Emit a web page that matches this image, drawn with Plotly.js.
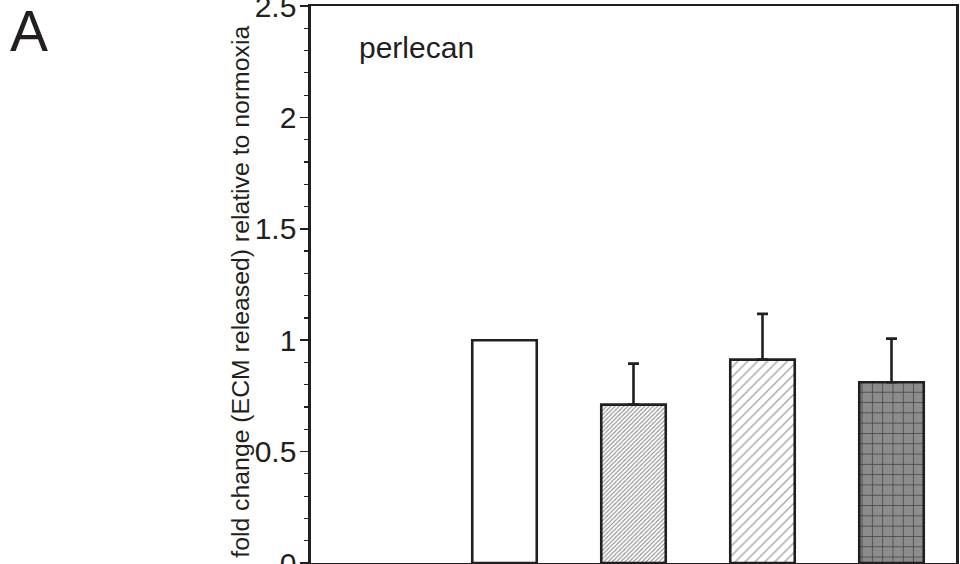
<!DOCTYPE html>
<html>
<head>
<meta charset="utf-8">
<script src="https://cdn.plot.ly/plotly-3.0.1.min.js"></script>
<style>html,body{margin:0;padding:0;background:#fff;}#chart{width:960px;height:564px;}</style>
</head>
<body>
<div id="chart"></div>
<script>
// Data
const positions = [1, 2, 3, 4];            // category slots (slot 0 is empty)
const values = [1.0, 0.711, 0.913, 0.811];
const errorsUp = [0, 0.184, 0.205, 0.196];
const yTickValues = [0, 0.5, 1, 1.5, 2, 2.5];
const yTickLabels = ["0", "0.5", "1", "1.5", "2", "2.5"];
const yTitle = "fold change (ECM released) relative to normoxia";
const panelLabel = "A";
const proteinLabel = "perlecan";

const ink = "#231f20";
const font = "Liberation Sans, Arial, Helvetica, sans-serif";

// fill styles per bar
const fills = [
  {color: "#ffffff", pattern: null},
  {color: "#ffffff", pattern: {shape: "/", size: 3, solidity: 0.35, fgcolor: "#8a8a8a", bgcolor: "#ffffff", fillmode: "replace"}},
  {color: "#ffffff", pattern: {shape: "/", size: 7, solidity: 0.18, fgcolor: "#a0a0a0", bgcolor: "#ffffff", fillmode: "replace"}},
  {color: "#8c8c8c", pattern: {shape: "+", size: 10.3, solidity: 0.12, fgcolor: "#333333", bgcolor: "#8c8c8c", fillmode: "replace"}}
];

const traces = positions.map((p, i) => {
  const marker = {color: fills[i].color, line: {color: ink, width: 2.6}};
  if (fills[i].pattern) marker.pattern = fills[i].pattern;
  const t = {
    type: "bar",
    x: [p],
    y: [values[i]],
    width: 0.5,
    marker: marker,
    hoverinfo: "x+y"
  };
  if (errorsUp[i] > 0) {
    t.error_y = {
      type: "data", symmetric: false,
      array: [errorsUp[i]], arrayminus: [0],
      color: ink, thickness: 2.6, width: 5.5
    };
  }
  return t;
});

const layout = {
  width: 960,
  height: 564,
  margin: {l: 311, r: 4, t: 6, b: 1},
  paper_bgcolor: "#ffffff",
  plot_bgcolor: "#ffffff",
  showlegend: false,
  font: {family: font, color: ink},
  barmode: "overlay",
  xaxis: {
    range: [-0.5, 4.5],
    showticklabels: false,
    ticks: "",
    showgrid: false,
    zeroline: false,
    showline: true,
    mirror: true,
    linecolor: ink,
    linewidth: 2.2,
    fixedrange: true
  },
  yaxis: {
    range: [0, 2.5],
    tickmode: "array",
    tickvals: yTickValues,
    ticktext: yTickLabels,
    ticklabeloverflow: "allow",
    ticks: "outside",
    ticklen: 8,
    tickwidth: 1.6,
    tickcolor: ink,
    ticklabelstandoff: -2,
    tickfont: {family: font, size: 30, color: ink},
    minor: {dtick: 0.1, ticks: "outside", ticklen: 4, tickwidth: 1.2, tickcolor: ink, showgrid: false},
    showgrid: false,
    zeroline: false,
    showline: true,
    mirror: true,
    linecolor: ink,
    linewidth: 2.6,
    fixedrange: true
  },
  annotations: [
    {
      text: yTitle, xref: "paper", yref: "paper",
      x: -0.1085, y: 0.487, xanchor: "center", yanchor: "middle",
      textangle: -90, showarrow: false,
      font: {family: font, size: 24.8, color: ink}
    },
    {
      text: proteinLabel, xref: "paper", yref: "paper",
      x: (357 - 311) / 645, y: 1 - (47 - 6) / 557, xanchor: "left", yanchor: "middle",
      showarrow: false,
      font: {family: font, size: 30, color: ink}
    },
    {
      text: panelLabel, xref: "paper", yref: "paper",
      x: (8 - 311) / 645, y: 1 - (31 - 6) / 557, xanchor: "left", yanchor: "middle",
      showarrow: false,
      font: {family: font, size: 57, color: ink}
    }
  ]
};

Plotly.newPlot("chart", traces, layout, {displayModeBar: false, staticPlot: true});
</script>
</body>
</html>
